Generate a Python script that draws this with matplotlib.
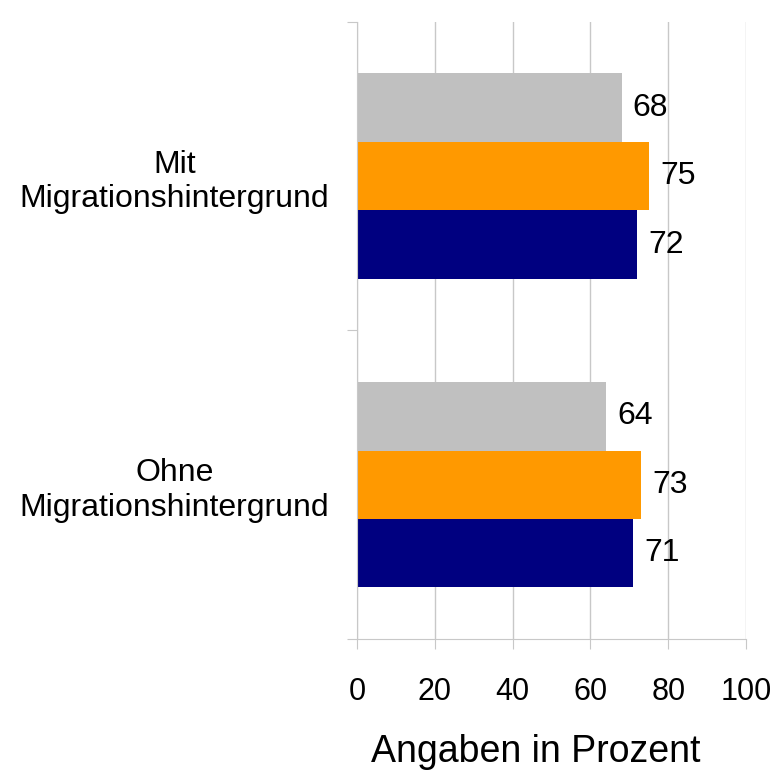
import matplotlib.pyplot as plt
import numpy as np

plt.rcParams['font.family'] = ['Liberation Sans', 'DejaVu Sans']

categories = ["Mit\nMigrationshintergrund", "Ohne\nMigrationshintergrund"]
grey_vals = [68, 64]
orange_vals = [75, 73]
navy_vals = [72, 71]
xticks = [0, 20, 40, 60, 80, 100]

fig = plt.figure(figsize=(7.84, 7.71), dpi=100)
ax = fig.add_axes([0.4554, 0.1712, 0.4962, 0.8003])

ypos = np.array([1, 0])
h = 0.222
series = [(grey_vals, "#c0c0c0", h), (orange_vals, "#ff9900", 0), (navy_vals, "#000080", -h)]
for vals, col, off in series:
    bars = ax.barh(ypos + off, vals, height=h, color=col, zorder=2)
    for b, v in zip(bars, vals):
        ax.annotate(str(v), (b.get_width(), b.get_y() + b.get_height() / 2),
                    xytext=(8, 0), textcoords="offset points",
                    va="center", ha="left", fontsize=23)

ax.set_xlim(0, 100)
ax.set_ylim(-0.5, 1.5)
ax.set_xticks(xticks)
ax.set_xticklabels([str(t) for t in xticks], fontsize=22)
ax.tick_params(axis="x", length=7, color="#c8c8c8", pad=20)
ax.set_yticks([-0.5, 0.5, 1.5])
ax.set_yticklabels([])
ax.tick_params(axis="y", which="major", length=7, color="#c8c8c8")
ax.set_yticks(ypos, minor=True)
ax.set_yticklabels(categories, minor=True, fontsize=23, multialignment="center")
ax.tick_params(axis="y", which="minor", length=0, pad=20)

ax.grid(axis="x", color="#c8c8c8", linewidth=1, zorder=0)
for s in ["top", "right"]:
    ax.spines[s].set_visible(False)
for s in ["left", "bottom"]:
    ax.spines[s].set_color("#c8c8c8")

fig.text(0.683, 0.025, "Angaben in Prozent", fontsize=27, ha="center", va="center")

fig.savefig("out.png", dpi=100)
